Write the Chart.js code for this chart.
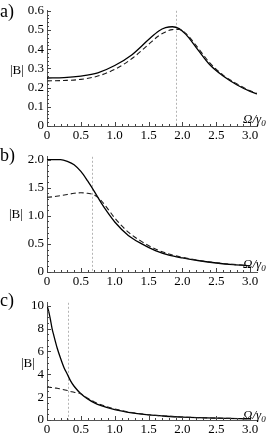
<!DOCTYPE html>
<html>
<head>
<meta charset="utf-8">
<script src="https://cdn.jsdelivr.net/npm/chart.js@4.4.1/dist/chart.umd.min.js"></script>
<style>
  body { margin: 0; background: #fff; }
  #wrap { position: relative; width: 269px; height: 438px; font-family: "Liberation Serif", "DejaVu Serif", serif; color: #000; }
  canvas { position: absolute; left: 0; }
  .lbl { position: absolute; white-space: nowrap; line-height: 1; }
  .panel { font-size: 18px; }
  .yl { font-size: 13px; }
  .xl { font-size: 13px; font-style: italic; }
  .xl sub { font-size: 9px; vertical-align: -3px; }
</style>
</head>
<body>
<div id="wrap">
  <canvas id="chartA" width="269" height="146" style="top:0px"></canvas>
  <canvas id="chartB" width="269" height="146" style="top:146px"></canvas>
  <canvas id="chartC" width="269" height="146" style="top:292px"></canvas>

  <div class="lbl panel" style="left:0px; top:2px">a)</div>
  <div class="lbl panel" style="left:0px; top:146px">b)</div>
  <div class="lbl panel" style="left:0px; top:291px">c)</div>

  <div class="lbl yl" style="left:10px; top:63px">|B|</div>
  <div class="lbl yl" style="left:9px; top:207px">|B|</div>
  <div class="lbl yl" style="left:21px; top:356px">|B|</div>

  <div class="lbl xl" style="left:243px; top:112px">Ω/γ<sub>0</sub></div>
  <div class="lbl xl" style="left:243px; top:257px">Ω/γ<sub>0</sub></div>
  <div class="lbl xl" style="left:243px; top:408px">Ω/γ<sub>0</sub></div>
</div>
<script>
// x axis, shared by all panels
const xTicks = [0, 0.5, 1, 1.5, 2, 2.5, 3];
const xTickLabels = ['0', '0.5', '1.0', '1.5', '2.0', '2.5', '3.0'];

// panel a)
const aX      = [0, 0.25, 0.5, 0.75, 1.0, 1.25, 1.5, 1.65, 1.75, 1.85, 1.95, 2.05, 2.2, 2.4, 2.6, 2.8, 3.0, 3.1];
const aSolid  = [0.25, 0.252, 0.26, 0.277, 0.315, 0.37, 0.45, 0.495, 0.512, 0.517, 0.507, 0.477, 0.41, 0.32, 0.26, 0.215, 0.18, 0.167];
const aDashed = [0.235, 0.237, 0.243, 0.26, 0.295, 0.35, 0.425, 0.47, 0.49, 0.502, 0.503, 0.482, 0.42, 0.33, 0.265, 0.22, 0.183, 0.17];
const aYTicks = [0, 0.1, 0.2, 0.3, 0.4, 0.5, 0.6];
const aYTickLabels = ['0', '0.1', '0.2', '0.3', '0.4', '0.5', '0.6'];
const aMarker = 1.9;

// panel b)
const bX      = [0, 0.1, 0.2, 0.3, 0.4, 0.5, 0.6, 0.7, 0.8, 0.9, 1.0, 1.2, 1.4, 1.6, 1.8, 2.0, 2.25, 2.5, 2.75, 3.0];
const bSolid  = [2.0, 2.0, 2.0, 1.97, 1.91, 1.79, 1.62, 1.43, 1.23, 1.05, 0.89, 0.65, 0.50, 0.38, 0.30, 0.25, 0.20, 0.16, 0.13, 0.11];
const bDashed = [1.33, 1.34, 1.36, 1.38, 1.40, 1.41, 1.40, 1.37, 1.27, 1.12, 0.96, 0.71, 0.54, 0.41, 0.32, 0.26, 0.205, 0.165, 0.135, 0.11];
const bYTicks = [0, 0.5, 1, 1.5, 2];
const bYTickLabels = ['0', '0.5', '1.0', '1.5', '2.0'];
const bMarker = 0.66;

// panel c)
const cX      = [0, 0.025, 0.05, 0.075, 0.1, 0.15, 0.2, 0.25, 0.3, 0.35, 0.4, 0.5, 0.6, 0.7, 0.8, 1.0, 1.25, 1.5, 1.75, 2.0, 2.5, 3.0];
const cSolid  = [10, 9.5, 8.8, 8.0, 7.4, 6.3, 5.4, 4.6, 4.0, 3.4, 2.95, 2.3, 1.85, 1.5, 1.25, 0.9, 0.62, 0.44, 0.33, 0.25, 0.16, 0.11];
const cDashed = [2.88, 2.87, 2.85, 2.84, 2.82, 2.77, 2.72, 2.65, 2.58, 2.5, 2.42, 2.3, 1.9, 1.58, 1.33, 0.97, 0.66, 0.46, 0.345, 0.26, 0.165, 0.11];
const cYTicks = [0, 2, 4, 6, 8, 10];
const cYTickLabels = ['0', '2', '4', '6', '8', '10'];
const cMarker = 0.31;

const tickFont = { family: '"Liberation Serif", serif', size: 13 };

// inward Mathematica-like tick marks and the dotted marker line
const axisExtras = {
    id: 'axisExtras',
    beforeDatasetsDraw(chart, args, opts) {
        const { ctx, chartArea: ca, scales: { x } } = chart;
        const px = Math.round(x.getPixelForValue(opts.marker)) + 0.5;
        ctx.save();
        ctx.strokeStyle = '#b4b4b4';
        ctx.lineWidth = 1;
        ctx.setLineDash([2, 2]);
        ctx.beginPath();
        ctx.moveTo(px, ca.top);
        ctx.lineTo(px, ca.bottom);
        ctx.stroke();
        ctx.restore();
    },
    afterDraw(chart, args, opts) {
        const { ctx, chartArea: ca, scales: { x, y } } = chart;
        ctx.save();
        ctx.strokeStyle = '#444';
        ctx.lineWidth = 1;
        const eps = 1e-6;
        for (let i = 0; x.min + i * 0.1 <= 3.0 + eps; i++) {
            const v = x.min + i * 0.1;
            const len = (i % 5 === 0) ? 4 : 2;
            const px = Math.round(x.getPixelForValue(v)) + 0.5;
            ctx.beginPath();
            ctx.moveTo(px, ca.bottom);
            ctx.lineTo(px, ca.bottom - len);
            ctx.stroke();
        }
        const n = Math.round(opts.yMajor / opts.yMinor);
        for (let i = 0; i * opts.yMinor <= y.max + eps; i++) {
            const v = i * opts.yMinor;
            const len = (i % n === 0) ? 4 : 2;
            const py = Math.round(y.getPixelForValue(v)) + 0.5;
            ctx.beginPath();
            ctx.moveTo(ca.left, py);
            ctx.lineTo(ca.left + len, py);
            ctx.stroke();
        }
        ctx.restore();
    }
};

function makePanel(id, xs, solid, dashed, yTicks, yLabels, yMax, yMinor, marker, padTop, xHeight) {
    new Chart(document.getElementById(id), {
        type: 'line',
        data: {
            datasets: [
                {
                    data: xs.map((v, i) => ({ x: v, y: dashed[i] })),
                    borderColor: '#1a1a1a',
                    borderWidth: 1.1,
                    borderDash: [5, 3],
                    pointRadius: 0,
                    cubicInterpolationMode: 'monotone'
                },
                {
                    data: xs.map((v, i) => ({ x: v, y: solid[i] })),
                    borderColor: '#000',
                    borderWidth: 1.3,
                    pointRadius: 0,
                    cubicInterpolationMode: 'monotone'
                }
            ]
        },
        options: {
            responsive: false,
            animation: false,
            events: [],
            layout: { padding: { top: padTop, right: 12, bottom: 0, left: 0 } },
            plugins: {
                legend: { display: false },
                tooltip: { enabled: false },
                axisExtras: { marker: marker, yMajor: yTicks[1] - yTicks[0], yMinor: yMinor }
            },
            scales: {
                x: {
                    type: 'linear',
                    min: 0,
                    max: 3.1,
                    afterFit: s => { s.height = xHeight; },
                    afterBuildTicks: s => { s.ticks = xTicks.map(v => ({ value: v })); },
                    grid: { display: false, drawTicks: false },
                    border: { display: true, color: '#555', width: 1 },
                    ticks: {
                        padding: 2,
                        maxRotation: 0,
                        color: '#000',
                        font: tickFont,
                        callback: v => xTickLabels[xTicks.indexOf(v)]
                    }
                },
                y: {
                    type: 'linear',
                    min: 0,
                    max: yMax,
                    afterFit: s => { s.width = 47; },
                    afterBuildTicks: s => { s.ticks = yTicks.map(v => ({ value: v })); },
                    grid: { display: false, drawTicks: false },
                    border: { display: true, color: '#555', width: 1 },
                    ticks: {
                        padding: 3,
                        color: '#000',
                        font: tickFont,
                        callback: v => yLabels[yTicks.indexOf(v)]
                    }
                }
            }
        },
        plugins: [axisExtras]
    });
}

makePanel('chartA', aX, aSolid, aDashed, aYTicks, aYTickLabels, 0.6, 0.02, aMarker, 10, 20);
makePanel('chartB', bX, bSolid, bDashed, bYTicks, bYTickLabels, 2.05, 0.1, bMarker, 5, 20);
makePanel('chartC', cX, cSolid, cDashed, cYTicks, cYTickLabels, 10.25, 0.5, cMarker, 4, 18);
</script>
</body>
</html>
